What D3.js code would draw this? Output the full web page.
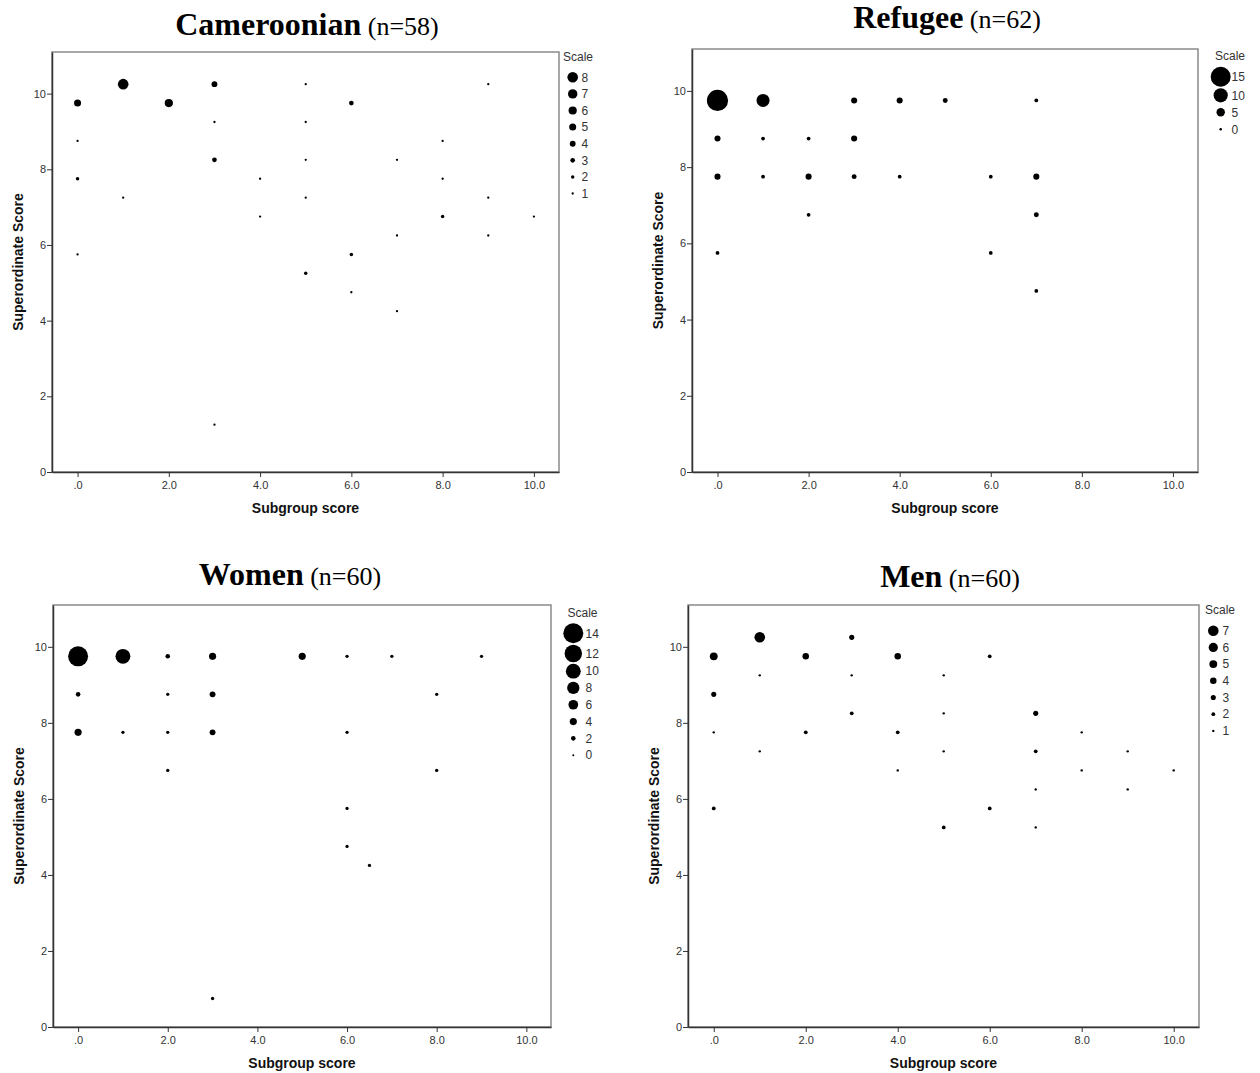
<!DOCTYPE html>
<html><head><meta charset="utf-8">
<script src="https://cdn.jsdelivr.net/npm/d3@7"></script>
<style>
body{margin:0;background:#fff;}
svg{display:block;}
</style></head>
<body>
<svg id="chart" width="1260" height="1073"></svg>
<script>
// ---------- DATA ----------
const xTicks = [0, 2, 4, 6, 8, 10];
const yTicks = [0, 2, 4, 6, 8, 10];

// Cameroonian (n=58)
const camX = [0,0,0,0, 1,1, 2, 3,3,3,3, 4,4, 5,5,5,5,5, 6,6,6, 7,7,7, 8,8,8, 9,9,9, 10];
const camY = [9.75,8.75,7.75,5.75, 10.25,7.25, 9.75, 10.25,9.25,8.25,1.25, 7.75,6.75, 10.25,9.25,8.25,7.25,5.25, 9.75,5.75,4.75, 8.25,6.25,4.25, 8.75,7.75,6.75, 10.25,7.25,6.25, 6.75];
const camN = [5,1,2,1, 8,1, 6, 4,1,3,1, 1,1, 1,1,1,1,2, 3,2,1, 1,1,1, 1,1,2, 1,1,1, 1];
const camLegend = [8,7,6,5,4,3,2,1];

// Refugee (n=62)
const refX = [0,0,0,0, 1,1,1, 2,2,2, 3,3,3, 4,4, 5, 6,6, 7,7,7,7];
const refY = [9.75,8.75,7.75,5.75, 9.75,8.75,7.75, 8.75,7.75,6.75, 9.75,8.75,7.75, 9.75,7.75, 9.75, 7.75,5.75, 9.75,7.75,6.75,4.75];
const refN = [16,3,3,1, 9,1,1, 1,3,1, 3,3,2, 3,1, 2, 1,1, 1,3,2,1];
const refLegend = [15,10,5,0];

// Women (n=60)
const womX = [0,0,0, 1,1, 2,2,2,2, 3,3,3,3, 5, 6,6,6,6, 6.5, 7, 8,8, 9];
const womY = [9.75,8.75,7.75, 9.75,7.75, 9.75,8.75,7.75,6.75, 9.75,8.75,7.75,0.75, 9.75, 9.75,7.75,5.75,4.75, 4.25, 9.75, 8.75,6.75, 9.75];
const womN = [14,2,4, 10,1, 2,1,1,1, 4,3,3,1, 4, 1,1,1,1, 1, 1, 1,1, 1];
const womLegend = [14,12,10,8,6,4,2,0];

// Men (n=60)
const menX = [0,0,0,0, 1,1,1, 2,2, 3,3,3, 4,4,4, 5,5,5,5, 6,6, 7,7,7,7, 8,8, 9,9, 10];
const menY = [9.75,8.75,7.75,5.75, 10.25,9.25,7.25, 9.75,7.75, 10.25,9.25,8.25, 9.75,7.75,6.75, 9.25,8.25,7.25,5.25, 9.75,5.75, 8.25,7.25,6.25,5.25, 7.75,6.75, 7.25,6.25, 6.75];
const menN = [5,3,1,2, 7,1,1, 4,2, 3,1,2, 4,2,1, 1,1,1,2, 2,2, 3,2,1,1, 1,1, 1,1, 1];
const menLegend = [7,6,5,4,3,2,1];

// ---------- LAYOUT ----------
const panels = [
  {title:"Cameroonian", n:"(n=58)", xs:camX, ys:camY, ns:camN, legend:camLegend,
   l:52, r:559, t:52, b:472, titleX:307, titleY:35,
   sizeDomain:[1,8], sizeRange:[1.15,5.3], legX:563, legCx:572.7, legTx:581.5, legY0:77.3, legStep:16.6},
  {title:"Refugee", n:"(n=62)", xs:refX, ys:refY, ns:refN, legend:refLegend,
   l:692, r:1198, t:49, b:472, titleX:947, titleY:28,
   sizeDomain:[0,15], sizeRange:[1.3,10], legX:1215, legCx:1220.7, legTx:1231.5, legY0:76.7, legStep:17},
  {title:"Women", n:"(n=60)", xs:womX, ys:womY, ns:womN, legend:womLegend,
   l:53, r:551, t:605, b:1027, titleX:290, titleY:585,
   sizeDomain:[0,14], sizeRange:[1,10], legX:567.5, legCx:573.3, legTx:585.5, legY0:633.3, legStep:16.8},
  {title:"Men", n:"(n=60)", xs:menX, ys:menY, ns:menN, legend:menLegend,
   l:688, r:1199, t:605, b:1027, titleX:950, titleY:587,
   sizeDomain:[1,7], sizeRange:[1.2,5.3], legX:1205, legCx:1213.3, legTx:1222.5, legY0:630.7, legStep:16.7}
];

const svg = d3.select("#chart");
const sans = "'Liberation Sans', Arial, sans-serif";
const serif = "'Liberation Serif', 'Times New Roman', serif";

panels.forEach(p => {
  const g = svg.append("g");
  const x = d3.scaleLinear().domain([-0.56, 10.55]).range([p.l, p.r]);
  const y = d3.scaleLinear().domain([0, 11.1]).range([p.b, p.t]);
  const rs = d3.scaleLinear().domain(p.sizeDomain).range(p.sizeRange);

  // frame (top/right gray)
  g.append("rect").attr("x", p.l).attr("y", p.t)
    .attr("width", p.r - p.l).attr("height", p.b - p.t)
    .attr("fill", "none").attr("stroke", "#8a8a8a").attr("stroke-width", 1.5);

  // axes
  const yAxis = d3.axisLeft(y).tickValues(yTicks).tickSize(5).tickSizeOuter(0).tickPadding(1)
    .tickFormat(d3.format("d"));
  const xAxis = d3.axisBottom(x).tickValues(xTicks).tickSize(5).tickSizeOuter(0).tickPadding(4)
    .tickFormat(d => d === 0 ? ".0" : d.toFixed(1));
  const ya = g.append("g").attr("transform", `translate(${p.l},0)`).call(yAxis);
  const xa = g.append("g").attr("transform", `translate(0,${p.b})`).call(xAxis);
  [ya, xa].forEach(a => {
    a.select(".domain").attr("stroke", "#333").attr("stroke-width", 1.5);
    a.selectAll(".tick line").attr("stroke", "#333");
    a.selectAll(".tick text").attr("fill", "#333").style("font-family", sans).style("font-size", "11px");
  });

  // points
  const data = p.xs.map((v, i) => ({x: v, y: p.ys[i], n: p.ns[i]}));
  g.append("g").selectAll("circle").data(data).join("circle")
    .attr("cx", d => x(d.x)).attr("cy", d => y(d.y))
    .attr("r", d => rs(d.n)).attr("fill", "#000");

  // axis titles
  g.append("text").attr("transform", `translate(${p.l - 34},${(p.t + p.b) / 2}) rotate(-90)`)
    .attr("text-anchor", "middle").attr("dy", "0.35em")
    .style("font-family", sans).style("font-size", "14px").style("font-weight", "bold")
    .attr("fill", "#111").text("Superordinate Score");
  g.append("text").attr("x", (p.l + p.r) / 2).attr("y", p.b + 41)
    .attr("text-anchor", "middle")
    .style("font-family", sans).style("font-size", "14px").style("font-weight", "bold")
    .attr("fill", "#111").text("Subgroup score");

  // panel title
  const tt = g.append("text").attr("x", p.titleX).attr("y", p.titleY).attr("text-anchor", "middle")
    .style("font-family", serif).attr("fill", "#000");
  tt.append("tspan").style("font-weight", "bold").style("font-size", "32px").text(p.title);
  tt.append("tspan").style("font-size", "26px").text(" " + p.n);

  // legend
  const lg = g.append("g");
  lg.append("text").attr("x", p.legX).attr("y", p.legY0 - 16.5)
    .style("font-family", sans).style("font-size", "12px").attr("fill", "#333").text("Scale");
  let yy = p.legY0;
  const ys = [];
  p.legend.forEach((v, i) => {
    if (i > 0) {
      const prev = p.legend[i - 1];
      yy += Math.max(p.legStep, rs(prev) + rs(v) + 1.5);
    }
    ys.push(yy);
  });
  lg.selectAll("circle").data(p.legend).join("circle")
    .attr("cx", p.legCx).attr("cy", (d, i) => ys[i]).attr("r", d => rs(d)).attr("fill", "#000");
  lg.selectAll("text.lab").data(p.legend).join("text").attr("class", "lab")
    .attr("x", p.legTx).attr("y", (d, i) => ys[i]).attr("dy", "0.35em")
    .style("font-family", sans).style("font-size", "12px").attr("fill", "#333").text(d => d);
});
</script>
</body></html>
